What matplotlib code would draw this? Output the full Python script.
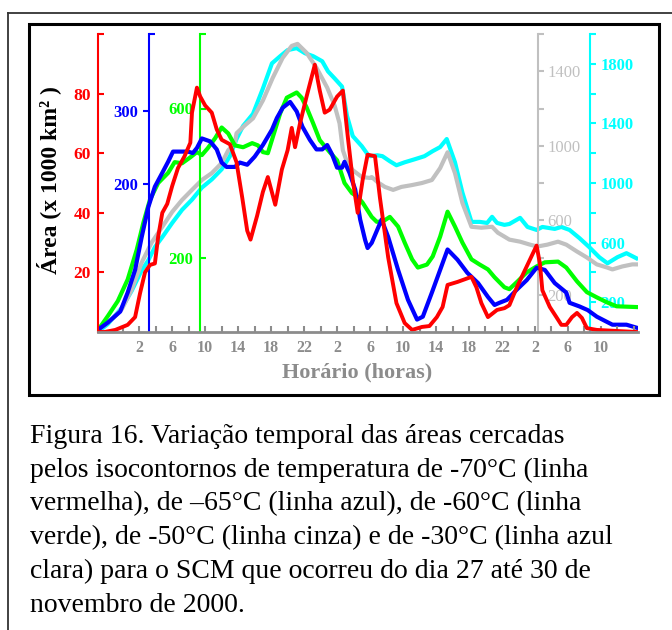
import matplotlib
matplotlib.use("Agg")

import matplotlib.pyplot as plt
from matplotlib.lines import Line2D
from matplotlib.patches import Rectangle

plt.rcParams["font.family"] = ["Liberation Serif", "DejaVu Serif"]

# horas corridas desde 0h do dia 27 (21 = 21h do dia 27)
red_hours = [21.0, 21.8, 23.1, 24.6, 25.5, 26.1, 26.7, 27.3, 27.9, 28.3, 28.8, 29.4, 30.0, 30.7,
             31.5, 32.2, 32.4, 33.0, 33.4, 34.0, 34.8, 35.4, 36.0, 37.0, 37.8, 38.5, 39.1, 39.5,
             40.3, 41.0, 41.6, 42.5, 43.3, 44.0, 44.5, 44.9, 45.5, 46.3, 47.3, 47.9, 48.5, 49.1,
             50.0, 50.7, 51.3, 51.9, 52.5, 53.1, 53.7, 54.6, 55.2, 56.2, 57.2, 58.2, 59.1, 60.3,
             61.2, 62.1, 62.8, 63.4, 64.6, 66.3, 66.9, 67.5, 68.3, 69.4, 70.3, 70.9, 71.8, 73.0,
             74.2, 74.6, 74.9, 75.8, 76.6, 77.2, 77.8, 78.5, 79.1, 79.7, 80.3, 81.5, 86.3]
red_area = [0, 0, 0.7, 2.4, 5, 13, 20, 22.5, 23, 32, 40, 43, 49, 55,
            59, 63.5, 73.6, 82, 79, 76, 73.6, 68, 64.5, 63, 57, 45, 34, 31,
            39, 47, 52, 42.7, 54.5, 61, 68.5, 62, 70, 79, 89.7, 81, 73.6, 74.6,
            79, 81, 65.5, 51, 40, 51, 59.5, 59, 45, 25, 9.7, 3, 0.7, 1.7,
            2, 5, 8.4, 15.8, 16.8, 18.5, 15, 9.7, 5, 7.4, 8, 9, 15, 22,
            29, 23, 14, 8.4, 5, 2.4, 2.4, 5, 6.4, 4.7, 1.3, 0.7, 0]

blue_hours = [21.0, 22.2, 23.7, 24.6, 25.5, 26.3, 27.1, 27.9, 28.8, 29.5, 30.1, 31.2, 31.9, 32.5,
              33.0, 33.6, 34.6, 35.4, 36.0, 36.6, 37.6, 38.2, 39.1, 40.0, 41.0, 42.1, 42.7, 43.4,
              44.3, 45.1, 45.8, 46.7, 47.5, 48.2, 48.8, 49.4, 50.0, 50.6, 50.9, 51.5, 52.2, 52.8,
              53.4, 53.7, 54.2, 55.4, 56.2, 57.4, 58.6, 59.7, 60.4, 61.5, 62.5, 63.4, 64.6, 65.8,
              67.1, 68.3, 69.1, 69.7, 70.6, 71.8, 73.0, 74.2, 75.2, 76.4, 77.8, 78.2, 79.4, 80.4,
              81.5, 82.7, 83.4, 85.1, 86.3]
blue_area = [0, 10, 25, 51, 82, 127, 168, 196, 215, 230, 244, 244, 244, 242,
             249, 262, 258, 247, 229, 223, 223, 229, 226, 237, 253, 274, 290, 304,
             312, 299, 278, 260, 247, 247, 253, 240, 222, 222, 230, 215, 192, 151,
             123, 112, 119, 151, 127, 82, 41, 14, 18, 51, 82, 110, 96, 78,
             64, 45, 34, 37, 41, 55, 68, 85, 82, 64, 51, 37, 32, 27,
             18, 11, 7, 7, 3]

green_hours = [21.0, 22.2, 23.4, 24.6, 25.7, 26.5, 27.3, 28.3, 29.5, 30.3, 31.2, 32.2, 33.0, 33.6,
               34.3, 35.2, 36.0, 36.8, 37.6, 38.6, 39.7, 40.4, 41.0, 41.6, 42.2, 43.1, 43.9, 45.1,
               45.7, 46.3, 47.1, 47.9, 49.1, 50.0, 50.9, 51.8, 52.5, 53.1, 54.2, 54.8, 55.5, 56.4,
               57.4, 58.2, 59.1, 59.8, 60.9, 61.6, 62.5, 63.4, 64.3, 65.2, 66.3, 67.3, 68.3, 69.1,
               70.3, 70.9, 71.9, 73.0, 74.2, 75.2, 76.8, 77.8, 79.1, 80.3, 81.5, 82.7, 83.9, 86.3]
green_area = [5, 43, 83, 141, 221, 293, 355, 400, 427, 456, 453, 469, 483, 475,
              493, 520, 549, 533, 501, 496, 507, 501, 483, 480, 523, 587, 629, 643,
              629, 603, 560, 515, 483, 461, 400, 373, 363, 347, 309, 296, 296, 309,
              283, 240, 195, 173, 181, 203, 256, 323, 283, 240, 195, 181, 168, 147,
              120, 115, 136, 160, 176, 187, 189, 173, 136, 107, 93, 80, 69, 67]

gray_hours = [21.0, 22.7, 23.9, 25.1, 26.3, 27.5, 28.8, 30.0, 31.2, 32.4, 33.6, 34.8, 36.0, 36.8,
              37.6, 37.8, 38.8, 39.8, 41.0, 42.2, 43.4, 44.5, 45.2, 46.3, 47.5, 48.8, 49.7, 50.3,
              50.7, 51.2, 51.9, 53.0, 54.0, 54.2, 54.9, 55.8, 56.8, 57.8, 59.1, 60.3, 61.5, 62.5,
              63.4, 64.3, 65.2, 66.3, 67.5, 68.8, 69.5, 70.3, 70.9, 72.2, 73.4, 74.3, 75.5, 76.8,
              77.8, 79.1, 80.3, 81.5, 82.7, 83.4, 84.6, 85.8, 86.5]
gray_area = [10, 69, 123, 229, 373, 480, 565, 645, 709, 763, 816, 853, 907, 976,
             1013, 1067, 1109, 1147, 1243, 1365, 1472, 1536, 1547, 1499, 1419, 1312, 1216, 1120,
             976, 912, 869, 832, 827, 832, 805, 779, 763, 779, 789, 800, 816, 880,
             965, 853, 693, 565, 560, 565, 533, 512, 496, 485, 469, 459, 469, 485,
             469, 432, 400, 363, 347, 336, 352, 363, 363]

cyan_hours = [21.0, 22.2, 23.9, 25.1, 26.3, 27.1, 27.9, 28.8, 30.0, 31.2, 32.4, 33.6, 34.8, 36.0,
              37.0, 37.8, 38.6, 39.8, 41.0, 42.1, 43.1, 44.0, 45.1, 46.1, 47.1, 48.2, 48.9, 49.7,
              50.6, 51.2, 51.9, 53.0, 53.7, 54.0, 54.9, 55.5, 56.4, 57.2, 58.2, 59.4, 60.6, 61.6,
              62.5, 63.3, 64.3, 65.2, 66.3, 67.3, 68.2, 68.8, 69.4, 70.3, 70.9, 72.2, 73.1, 74.2,
              74.9, 76.4, 77.2, 78.2, 79.4, 80.6, 81.8, 82.8, 84.0, 85.1, 86.3]
cyan_area = [0, 54, 163, 278, 414, 481, 570, 637, 732, 820, 888, 969, 1024, 1092,
             1180, 1295, 1383, 1464, 1634, 1803, 1851, 1892, 1905, 1871, 1851, 1817, 1749, 1702,
             1647, 1451, 1315, 1247, 1193, 1180, 1186, 1180, 1146, 1119, 1139, 1159, 1180, 1214,
             1241, 1295, 1139, 936, 739, 739, 732, 773, 732, 719, 725, 766, 705, 685,
             705, 692, 705, 685, 630, 569, 502, 461, 502, 529, 495]

x_ticks = list(range(24, 87, 2))
x_tick_labels = ["", "2", "", "6", "", "10", "", "14", "", "18", "", "22", "", "2", "", "6",
                 "", "10", "", "14", "", "18", "", "22", "", "2", "", "6", "", "10", "", ""]

caption_lines = [
    "Figura 16. Variação temporal das áreas cercadas",
    "pelos isocontornos de temperatura de -70°C (linha",
    "vermelha), de –65°C (linha azul), de -60°C (linha",
    "verde), de -50°C (linha cinza) e de -30°C (linha azul",
    "clara) para o SCM que ocorreu do dia 27 até 30 de",
    "novembro de 2000.",
]

RED = "#ff0000"
BLUE = "#0000ff"
GREEN = "#00ff00"
GRAY = "#c0c0c0"
CYAN = "#00ffff"
AXGRAY = "#8c8c8c"

fig = plt.figure(figsize=(6.72, 6.30), dpi=100)
W, H = 672.0, 630.0

ax = fig.add_axes([98 / W, 1 - 332 / H, 540 / W, 298 / H])
ax.set_xlim(21, 86.5)
ax.set_ylim(0, 100)
ax.patch.set_visible(False)


def extra_axis(side, frac, color, ylim, ticks, labels, direction, pad, bold=True):
    t = ax.twinx()
    for s in t.spines.values():
        s.set_visible(False)
    t.spines[side].set_visible(True)
    t.spines[side].set_position(("axes", frac))
    t.spines[side].set_color(color)
    t.spines[side].set_linewidth(1.5)
    t.yaxis.set_ticks_position(side)
    t.set_ylim(*ylim)
    t.set_yticks(ticks, labels)
    t.set_yticks([ylim[1]], minor=True)
    t.tick_params(axis="y", which="major", colors=color, direction=direction,
                  length=4.5, width=1.5, labelsize=12, pad=pad)
    cap_dir = "in" if side == "left" else "out"
    t.tick_params(axis="y", which="minor", colors=color, direction=cap_dir,
                  length=4.5, width=1.5)
    for lbl in t.get_yticklabels():
        lbl.set_fontweight("bold" if bold else "normal")
    return t


ax_cyan = extra_axis("right", 492 / 540, CYAN, (0, 2000), list(range(200, 2000, 200)),
                     ["200", "", "600", "", "1000", "", "1400", "", "1800"], "out", 3)
ax_gray = extra_axis("right", 440 / 540, GRAY, (0, 1600), list(range(200, 1600, 200)),
                     ["200", "", "600", "", "1000", "", "1400"], "out", 2.5, bold=False)
ax_green = extra_axis("left", 102 / 540, GREEN, (0, 800), [200, 600], ["200", "600"], "in", 5)
ax_blue = extra_axis("left", 51 / 540, BLUE, (-3, 405), [200, 300], ["200", "300"], "out", 3)

ax_cyan.set_zorder(1)
ax_gray.set_zorder(2)
ax_green.set_zorder(3)
ax_blue.set_zorder(4)
ax.set_zorder(5)

ax_cyan.plot(cyan_hours, cyan_area, color=CYAN, lw=3)
ax_gray.plot(gray_hours, gray_area, color=GRAY, lw=3)
ax_green.plot(green_hours, green_area, color=GREEN, lw=3)
ax_blue.plot(blue_hours, blue_area, color=BLUE, lw=3)
ax.plot(red_hours, red_area, color=RED, lw=2.8)

# eixo vermelho (principal)
ax.spines["top"].set_visible(False)
ax.spines["right"].set_visible(False)
ax.spines["left"].set_color(RED)
ax.spines["left"].set_linewidth(1.5)
ax.spines["bottom"].set_color(AXGRAY)
ax.spines["bottom"].set_linewidth(2)
ax.set_yticks([20, 40, 60, 80], ["20", "40", "60", "80"])
ax.set_yticks([100], minor=True)
ax.tick_params(axis="y", which="both", colors=RED, direction="in", length=4.5, width=1.5,
               labelsize=12.5, pad=5)
for lbl in ax.get_yticklabels():
    lbl.set_fontweight("bold")

ax.set_xticks(x_ticks, x_tick_labels)
ax.tick_params(axis="x", colors=AXGRAY, direction="in", length=4.5, width=1.5,
               labelsize=11.5, pad=6)
for lbl in ax.get_xticklabels():
    lbl.set_fontweight("bold")

fig.text(357 / W, 1 - 372 / H, "Horário (horas)", ha="center", va="center",
         fontsize=16, fontweight="bold", color=AXGRAY)
fig.text(49 / W, 1 - 180 / H, "Área (x 1000 km² )", rotation=90, ha="center", va="center",
         fontsize=17, fontweight="bold", color="black")

# moldura do gráfico e da página
fig.patches.append(Rectangle((29 / W, 1 - 395 / H), 630 / W, 371 / H, transform=fig.transFigure,
                             fill=False, lw=2.2, ec="black"))
fig.lines.append(Line2D([8 / W, 1], [1 - 12.5 / H, 1 - 12.5 / H], transform=fig.transFigure,
                        color="#333333", lw=1.3))
fig.lines.append(Line2D([8 / W, 8 / W], [0, 1 - 12.5 / H], transform=fig.transFigure,
                        color="#333333", lw=1.3))

for i, line in enumerate(caption_lines):
    fig.text(30 / W, 1 - (443 + i * 33.7) / H, line, ha="left", va="baseline",
             fontsize=20, color="black")

fig.savefig("out.png", dpi=100, facecolor="white")
